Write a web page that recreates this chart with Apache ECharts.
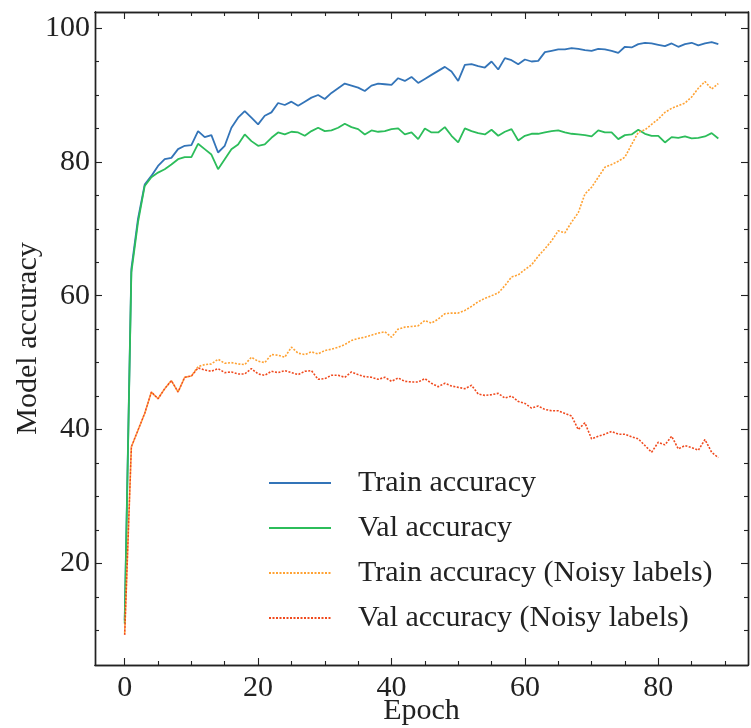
<!DOCTYPE html>
<html>
<head>
<meta charset="utf-8">
<script src="https://cdn.jsdelivr.net/npm/echarts@6/dist/echarts.min.js"></script>
<style>
  html, body { margin: 0; padding: 0; background: #ffffff; }
  #chart { width: 751px; height: 728px; }
</style>
</head>
<body>
<div id="chart"></div>
<script>
// Accuracy per epoch (0..89) for the clean and noisy-label runs
const trainAcc = [
  11.5, 64.0, 71.5, 76.6, 77.9, 79.4, 80.4, 80.6, 81.9, 82.4,
  82.5, 84.6, 83.7, 84.0, 81.4, 82.4, 85.1, 86.6, 87.6, 86.6,
  85.6, 86.9, 87.4, 88.8, 88.5, 89.0, 88.4, 89.0, 89.6, 90.0,
  89.4, 90.3, 91.0, 91.7, 91.4, 91.1, 90.6, 91.4, 91.7, 91.6,
  91.5, 92.5, 92.1, 92.7, 91.8, 92.4, 93.0, 93.6, 94.2, 93.5,
  92.1, 94.5, 94.6, 94.3, 94.1, 95.0, 93.8, 95.5, 95.2, 94.6,
  95.3, 95.0, 95.1, 96.4, 96.6, 96.8, 96.8, 97.0, 96.9, 96.7,
  96.6, 96.9, 96.8, 96.6, 96.3, 97.2, 97.1, 97.6, 97.8, 97.7,
  97.5, 97.3, 97.7, 97.2, 97.6, 97.8, 97.4, 97.7, 97.9, 97.6
];
const valAcc = [
  11.0, 63.5, 71.0, 76.4, 77.7, 78.4, 78.9, 79.6, 80.4, 80.7,
  80.7, 82.7, 81.9, 81.1, 78.9, 80.4, 81.9, 82.6, 84.1, 83.1,
  82.4, 82.6, 83.6, 84.4, 84.1, 84.5, 84.4, 83.9, 84.6, 85.1,
  84.6, 84.7, 85.1, 85.7, 85.2, 84.9, 84.1, 84.7, 84.5, 84.6,
  84.9, 85.0, 84.1, 84.4, 83.4, 85.0, 84.4, 84.4, 85.2, 83.9,
  82.9, 85.0, 84.6, 84.3, 84.1, 84.8, 83.9, 84.5, 84.9, 83.2,
  83.9, 84.2, 84.2, 84.4, 84.6, 84.7, 84.4, 84.2, 84.1, 84.0,
  83.8, 84.7, 84.4, 84.4, 83.4, 84.0, 84.1, 84.8, 84.2, 83.9,
  83.9, 82.9, 83.7, 83.6, 83.8, 83.5, 83.6, 83.8, 84.3, 83.5
];
const trainAccNoisy = [
   9.6, 37.4, 39.9, 42.4, 45.6, 44.6, 46.1, 47.3, 45.6, 47.8,
  48.0, 49.4, 49.7, 49.8, 50.5, 49.9, 50.0, 49.8, 49.7, 50.8,
  50.2, 50.0, 51.2, 51.1, 50.8, 52.3, 51.4, 51.2, 51.6, 51.3,
  51.8, 52.0, 52.3, 52.7, 53.3, 53.6, 53.8, 54.1, 54.4, 54.6,
  53.8, 55.0, 55.3, 55.4, 55.5, 56.3, 55.9, 56.5, 57.3, 57.4,
  57.4, 57.8, 58.4, 59.1, 59.6, 60.0, 60.4, 61.5, 62.8, 63.1,
  63.9, 64.6, 65.9, 67.0, 68.2, 69.7, 69.4, 71.0, 72.4, 75.2,
  76.2, 77.7, 79.2, 79.6, 80.1, 80.7, 82.6, 84.4, 84.8, 85.6,
  86.4, 87.4, 88.0, 88.4, 88.8, 89.7, 91.0, 92.0, 90.9, 91.7
];
const valAccNoisy = [
   9.3, 37.4, 39.9, 42.4, 45.6, 44.6, 46.1, 47.3, 45.6, 47.8,
  48.0, 49.2, 48.9, 48.7, 49.1, 48.5, 48.6, 48.3, 48.3, 49.1,
  48.3, 48.1, 48.7, 48.5, 48.8, 48.5, 48.2, 48.7, 48.8, 47.5,
  47.6, 48.1, 48.1, 47.8, 48.6, 48.2, 47.9, 47.8, 47.5, 47.8,
  47.2, 47.7, 47.2, 47.1, 47.1, 47.6, 46.9, 46.4, 46.9, 46.5,
  46.3, 46.1, 46.6, 45.3, 45.1, 45.2, 45.4, 44.7, 45.0, 44.2,
  43.9, 43.2, 43.5, 43.0, 42.8, 42.8, 42.4, 42.0, 40.0, 41.0,
  38.6, 39.0, 39.3, 39.7, 39.3, 39.3, 38.9, 38.6, 37.6, 36.6,
  38.1, 37.7, 39.0, 37.1, 37.6, 37.3, 36.9, 38.5, 36.6, 35.8
];
const seriesNames = [
  'Train accuracy',
  'Val accuracy',
  'Train accuracy (Noisy labels)',
  'Val accuracy (Noisy labels)'
];

// Tick positions
const xMajorTicks = [0, 20, 40, 60, 80];
const xMinorTicks = [5, 10, 15, 25, 30, 35, 45, 50, 55, 65, 70, 75, 85, 90];
const yMajorTicks = [20, 40, 60, 80, 100];
const yMinorTicks = [10, 15, 25, 30, 35, 45, 50, 55, 65, 70, 75, 85, 90, 95];

const FONT = 'Liberation Serif';
const INK = '#222222';

const toPairs = vals => vals.map((v, i) => [i, v]);

// Axis extents with a 5% margin around the data
const X_MIN = -4.45, X_MAX = 93.45;
const Y_MIN = 4.8, Y_MAX = 102.4;

function frameAxis(extra, ticks, len) {
  return Object.assign({
    type: 'value',
    axisLine: { show: true, onZero: false, lineStyle: { color: INK, width: 1.4 } },
    axisTick: { show: true, inside: true, length: len, customValues: ticks,
                lineStyle: { color: INK, width: 1.1 } },
    axisLabel: { show: false },
    splitLine: { show: false },
    minorTick: { show: false }
  }, extra);
}

const chart = echarts.init(document.getElementById('chart'), null, { renderer: 'canvas' });

const xAxes = [
  frameAxis({
    position: 'bottom', min: X_MIN, max: X_MAX,
    name: 'Epoch', nameLocation: 'middle', nameGap: 31, nameMoveOverlap: false,
    nameTextStyle: { fontFamily: FONT, fontSize: 30, color: INK },
    axisLabel: { show: true, customValues: xMajorTicks, margin: 8,
                 fontFamily: FONT, fontSize: 30, color: INK }
  }, xMajorTicks, 7),
  frameAxis({ position: 'bottom', min: X_MIN, max: X_MAX }, xMinorTicks, 4),
  frameAxis({ position: 'top', min: X_MIN, max: X_MAX }, xMajorTicks, 7),
  frameAxis({ position: 'top', min: X_MIN, max: X_MAX }, xMinorTicks, 4)
];
const yAxes = [
  frameAxis({
    position: 'left', min: Y_MIN, max: Y_MAX,
    name: 'Model accuracy', nameLocation: 'middle', nameGap: 52, nameMoveOverlap: false,
    nameTextStyle: { fontFamily: FONT, fontSize: 30, color: INK },
    axisLabel: { show: true, customValues: yMajorTicks, margin: 5,
                 fontFamily: FONT, fontSize: 30, color: INK }
  }, yMajorTicks, 7),
  frameAxis({ position: 'left', min: Y_MIN, max: Y_MAX }, yMinorTicks, 4),
  frameAxis({ position: 'right', min: Y_MIN, max: Y_MAX }, yMajorTicks, 7),
  frameAxis({ position: 'right', min: Y_MIN, max: Y_MAX }, yMinorTicks, 4)
];

const styles = [
  { color: '#3374b8', type: 'solid', width: 1.8 },
  { color: '#2cbd5a', type: 'solid', width: 1.8 },
  { color: '#ffa233', type: [2, 1.5], width: 1.6 },
  { color: '#f04a1e', type: [2, 1.5], width: 1.6 }
];
const values = [trainAcc, valAcc, trainAccNoisy, valAccNoisy];

chart.setOption({
  backgroundColor: '#ffffff',
  animation: false,
  grid: { left: 95, right: 3, top: 12, bottom: 63, containLabel: false,
          outerBoundsMode: 'none' },
  legend: {
    orient: 'vertical',
    left: 268,
    top: 468,
    padding: 0,
    itemWidth: 62,
    itemHeight: 14,
    itemGap: 15,
    // only the line sample, no marker dot
    itemStyle: { opacity: 0 },
    textStyle: { fontFamily: FONT, fontSize: 30, color: INK, lineHeight: 30,
                 padding: [0, 0, 0, 22] },
    data: seriesNames
  },
  xAxis: xAxes,
  yAxis: yAxes,
  series: values.map((vals, k) => ({
    name: seriesNames[k],
    type: 'line',
    xAxisIndex: 0,
    yAxisIndex: 0,
    data: toPairs(vals),
    symbol: 'none',
    showSymbol: false,
    smooth: false,
    color: styles[k].color,
    lineStyle: { color: styles[k].color, type: styles[k].type, width: styles[k].width },
    z: 2 + k
  }))
});
</script>
</body>
</html>
